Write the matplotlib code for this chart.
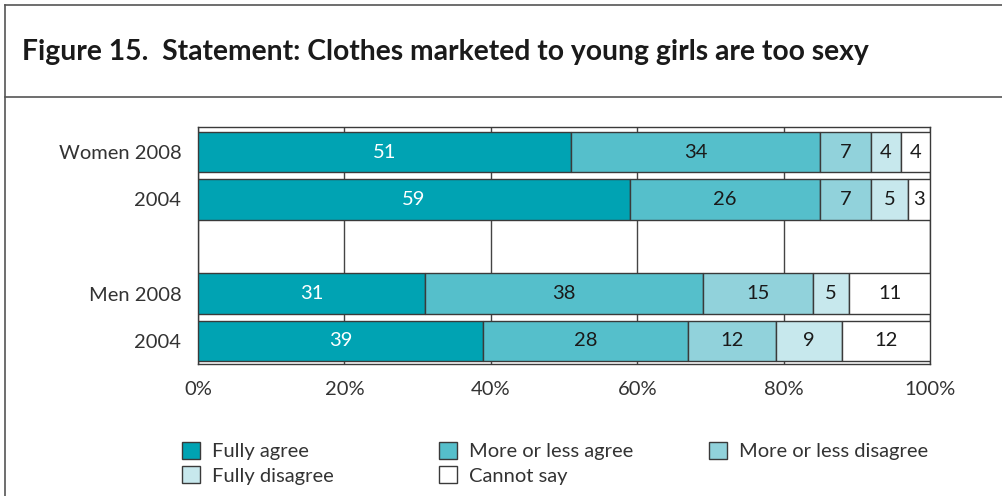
import matplotlib.pyplot as plt
from matplotlib.patches import Patch
from matplotlib.lines import Line2D

plt.rcParams["font.family"] = ["Lato", "DejaVu Sans"]

# survey shares, percent of respondents
groups = ["Women 2008", "2004", "Men 2008", "2004"]
group_pos = [0, 1, 3, 4]
fully_agree = [51, 59, 31, 39]
more_less_agree = [34, 26, 38, 28]
more_less_disagree = [7, 7, 15, 12]
fully_disagree = [4, 5, 5, 9]
cannot_say = [4, 3, 11, 12]

series = [
    ("Fully agree", fully_agree, "#00a3b3"),
    ("More or less agree", more_less_agree, "#55bfcb"),
    ("More or less disagree", more_less_disagree, "#91d2db"),
    ("Fully disagree", fully_disagree, "#c7e8ed"),
    ("Cannot say", cannot_say, "#ffffff"),
]
xticks = [0, 20, 40, 60, 80, 100]
EDGE = "#3a3a3a"
FS = 14.5

fig = plt.figure(figsize=(10.02, 4.96), dpi=100)

# frame around the figure and the title band
fig.add_artist(Line2D([5 / 1002, 5 / 1002], [0, 1 - 5 / 496], color="#555", lw=1.2))
fig.add_artist(Line2D([5 / 1002, 1], [1 - 5 / 496, 1 - 5 / 496], color="#555", lw=1.2))
fig.add_artist(Line2D([5 / 1002, 1], [1 - 97 / 496, 1 - 97 / 496], color="#555", lw=1.2))
fig.text(22 / 1002, 1 - 52 / 496, "Figure 15.  Statement: Clothes marketed to young girls are too sexy",
         fontsize=20.3, fontweight="bold", color="#1a1a1a", va="center", ha="left")

ax = fig.add_axes([198 / 1002, 1 - 364 / 496, 732 / 1002, 237 / 496])

left = [0] * len(groups)
for i, (name, vals, color) in enumerate(series):
    ax.barh(group_pos, vals, left=left, height=0.86, color=color, edgecolor=EDGE,
            linewidth=1.0, label=name, zorder=3)
    for y, v, l in zip(group_pos, vals, left):
        ax.text(l + v / 2, y, str(v), ha="center", va="center", fontsize=FS,
                color="white" if i == 0 else "#1a1a1a", zorder=4)
    left = [l + v for l, v in zip(left, vals)]

ax.set_xlim(0, 100)
ax.set_ylim(4.49, -0.53)
ax.set_xticks(xticks)
ax.set_xticklabels([f"{t}%" for t in xticks], fontsize=FS, color="#333")
ax.set_yticks(group_pos)
ax.set_yticklabels(groups, fontsize=FS, color="#333")
ax.tick_params(axis="x", length=0, pad=12)
ax.tick_params(axis="y", length=0, pad=12)
ax.grid(axis="x", color="#444", linewidth=1.0, zorder=0)
for s in ax.spines.values():
    s.set_color(EDGE)
    s.set_linewidth(1.0)

# legend laid out in rows: three entries on top, two below
handles = [Patch(facecolor=c, edgecolor=EDGE, linewidth=1.0, label=n) for n, _, c in series]
columns = [([handles[0], handles[3]], 172), ([handles[1], handles[4]], 429), ([handles[2]], 699)]
for hs, x0 in columns:
    fig.legend(handles=hs, loc="upper left", bbox_to_anchor=(x0 / 1002, 1 - 432 / 496),
               frameon=False, handlelength=0.9, handleheight=0.9,
               handletextpad=0.6, labelspacing=0.3, borderpad=0, labelcolor="#333",
               prop={"size": FS})

fig.savefig("out.png", dpi=100)
